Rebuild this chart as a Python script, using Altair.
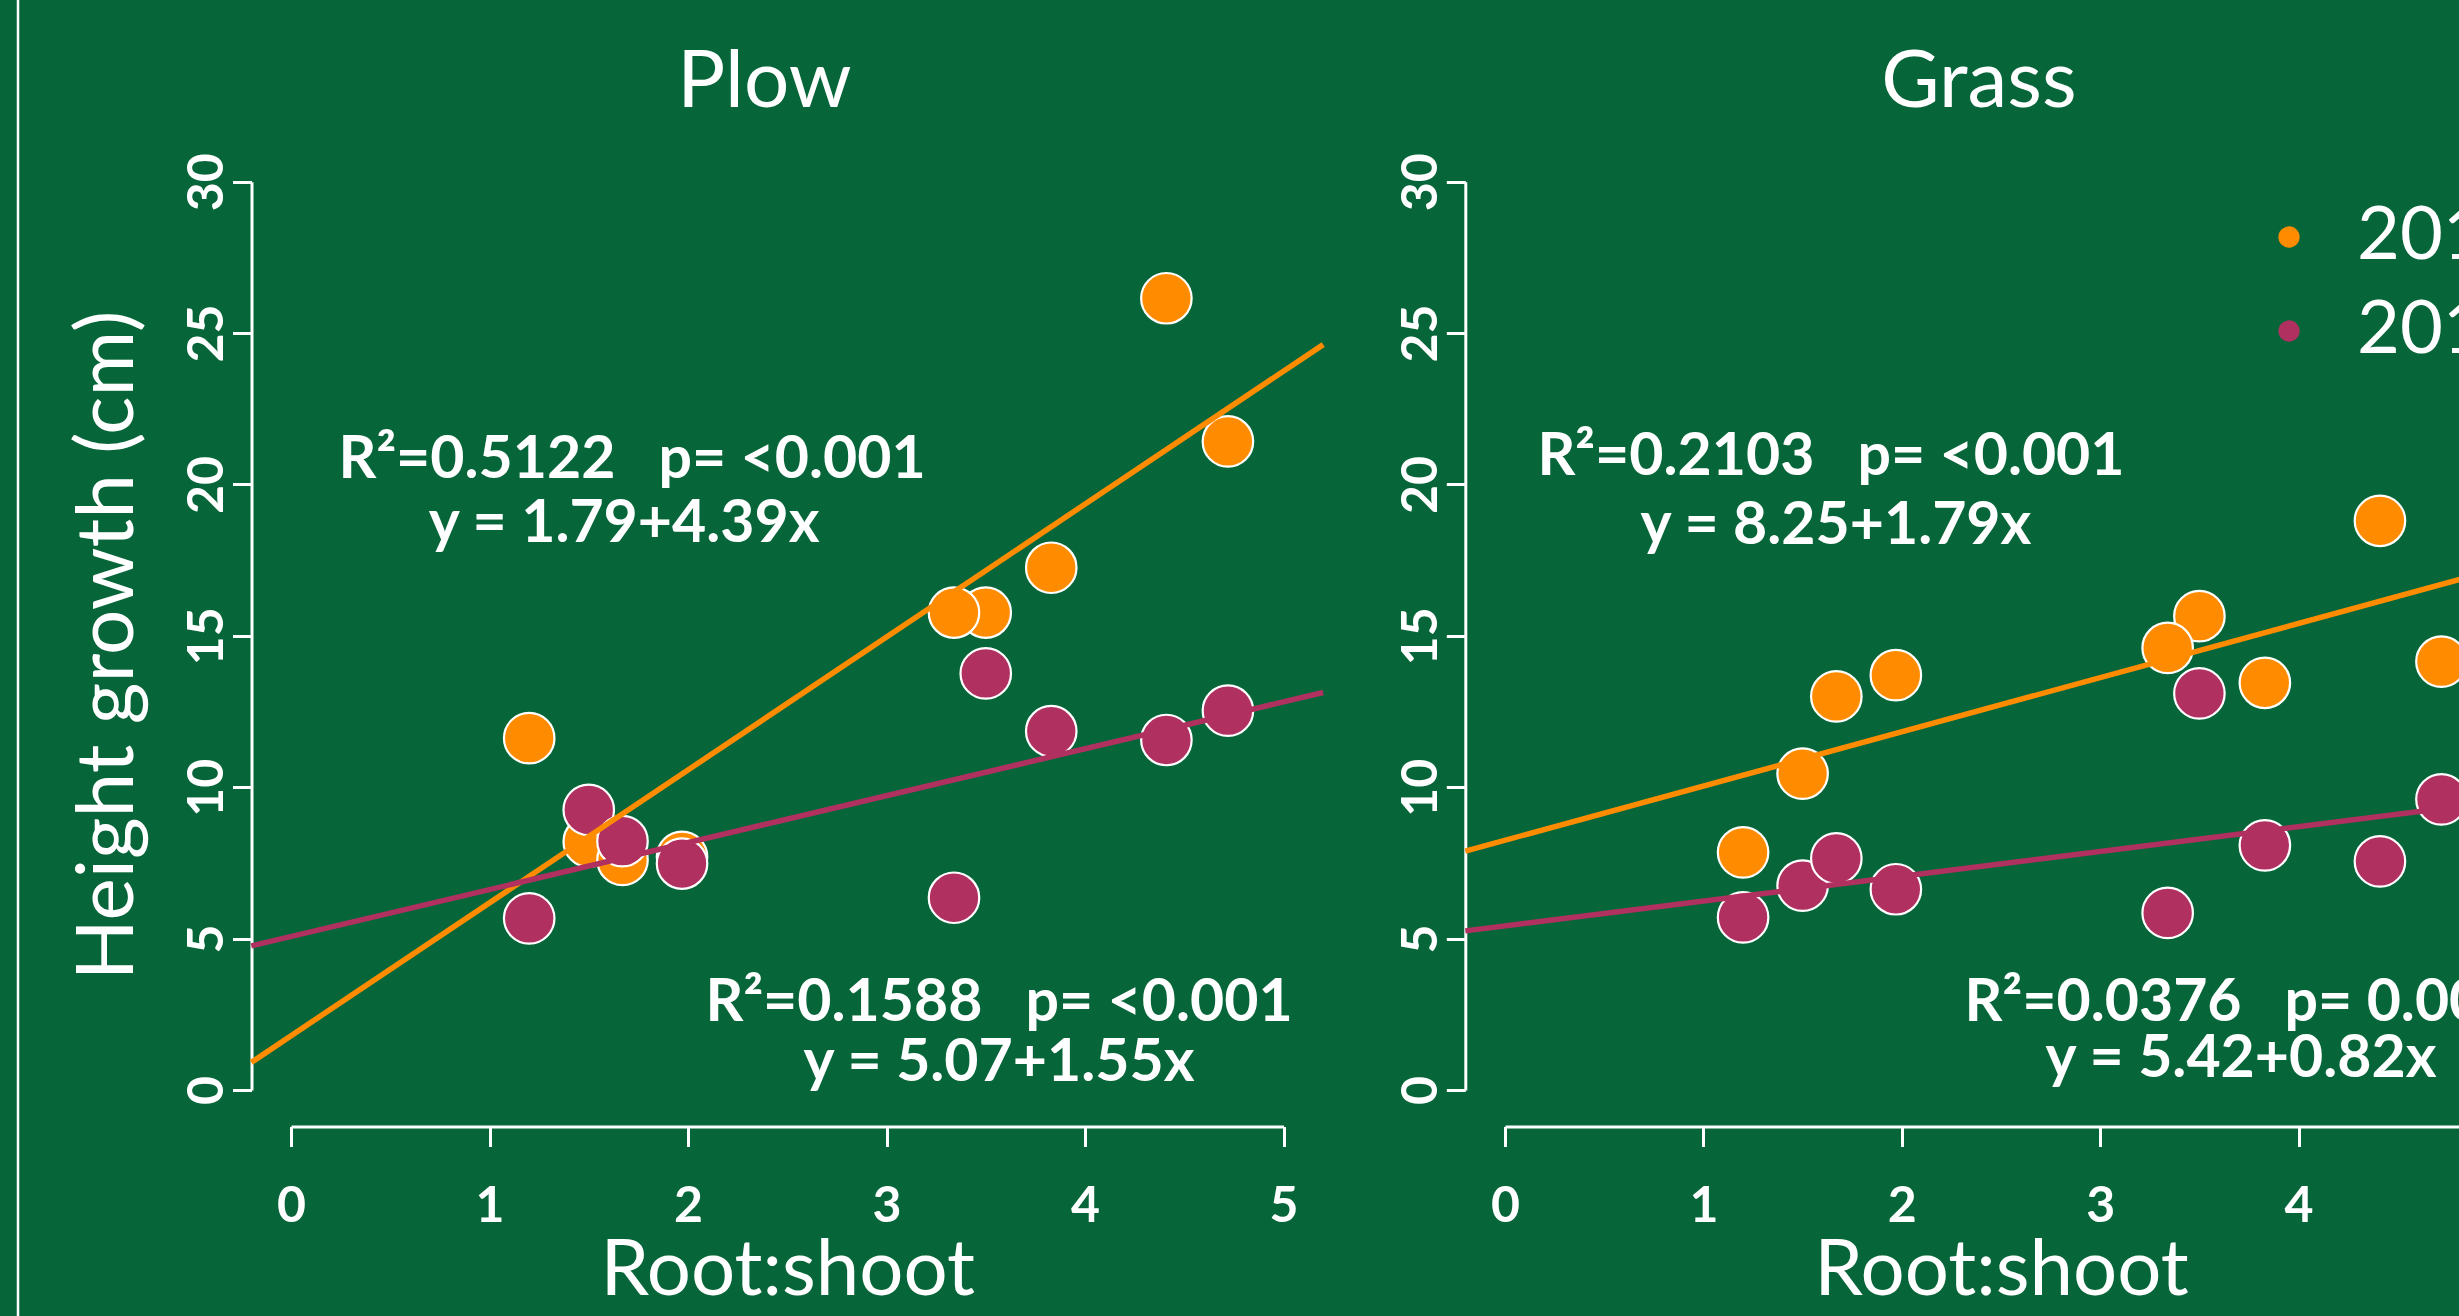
import altair as alt
import pandas as pd

# ---- data -------------------------------------------------------------
# Root:shoot ratio of the nine stock types (same for both site preparations)
root_shoot = [1.20, 1.50, 1.67, 1.97, 3.50, 3.34, 3.83, 4.41, 4.72]

years = ["2016", "2017"]
year_colors = ["#FF8C00", "#B03060"]

# Mean height growth (cm), in the same stock-type order as root_shoot
plow_2016 = [11.62, 8.20, 7.60, 7.70, 15.77, 15.77, 17.25, 26.15, 21.42]
plow_2017 = [5.67, 9.25, 8.22, 7.48, 13.76, 6.35, 11.85, 11.56, 12.53]
grass_2016 = [7.85, 10.45, 13.00, 13.70, 15.65, 14.60, 13.45, 18.80, 14.15]
grass_2017 = [5.70, 6.75, 7.65, 6.63, 13.10, 5.85, 8.08, 7.55, 9.60]

# Linear fits: (intercept, slope), R-squared, p-value text
plow_fit_2016 = (1.79, 4.39)
plow_fit_2017 = (5.07, 1.55)
grass_fit_2016 = (8.25, 1.79)
grass_fit_2017 = (5.42, 0.82)
plow_r2 = ["0.5122", "0.1588"]
plow_p = ["<0.001", "<0.001"]
grass_r2 = ["0.2103", "0.0376"]
grass_p = ["<0.001", "0.006"]

x_ticks = [0, 1, 2, 3, 4, 5]
y_ticks = [0, 5, 10, 15, 20, 25, 30]

# ---- layout / style ---------------------------------------------------
W, H = 2459, 1316
GREEN = "#07653A"
FONT = "Lato"
X_LO, X_HI = -0.2, 5.2          # plot region (4 % beyond 0..5)
X_RANGE = {"Plow": [291, 1283.5], "Grass": [1505, 2497]}
Y_RANGE = [1090, 181.7]
X_AXIS_AT = 1126.5               # pixel row of the x axes
Y_AXIS_AT = {"Plow": 251.5, "Grass": 1465.3}

# annotation anchors (data units) : [stat line, equation line] per year
TEXT_POS = {
    "Plow": [[(1.718, 20.82), (1.678, 18.71)], [(3.567, 2.86), (3.567, 0.88)]],
    "Grass": [[(1.643, 20.92), (1.668, 18.64)], [(3.71, 2.89), (3.71, 1.04)]],
}
TITLE_POS = {"Plow": (2.385, 33.27), "Grass": (2.389, 33.27)}
NBSP3 = "\u00a0\u00a0\u00a0"


def points_frame(a, b):
    rows = []
    for yr, vals in zip(years, (a, b)):
        for x, y in zip(root_shoot, vals):
            rows.append({"x": x, "y": y, "year": yr})
    return pd.DataFrame(rows)


def fit_frame(f1, f2):
    rows = []
    for yr, (a, b) in zip(years, (f1, f2)):
        for x in (X_LO, X_HI):
            rows.append({"x": x, "a": a, "b": b, "year": yr})
    return pd.DataFrame(rows)


def label_frame(name, fits, r2s, ps):
    rows = []
    for (a, b), r2, p, pos in zip(fits, r2s, ps, TEXT_POS[name]):
        rows.append({"x": pos[0][0], "y": pos[0][1],
                     "label": f"R\u00b2={r2}{NBSP3}p= {p}"})
        rows.append({"x": pos[1][0], "y": pos[1][1],
                     "label": f"y = {a:.2f}+{b:.2f}x"})
    return pd.DataFrame(rows)


legend = alt.Legend(
    orient="none", legendX=2252, legendY=200, title=None,
    symbolType="circle", symbolSize=452, symbolStrokeWidth=0,
    symbolOpacity=1, labelFont=FONT, labelFontSize=74,
    labelColor="white", labelOffset=31, labelLimit=400,
    rowPadding=20, padding=0,
)


def panel(name, g1, g2, f1, f2, r2s, ps, y_title):
    common = dict(
        domainColor="white", domainWidth=3, tickColor="white", tickWidth=3,
        grid=False, labelColor="white", labelFont=FONT, labelFontSize=50,
        labelFontWeight="bold", labelFlush=False, labelOverlap=False,
    )
    x_axis = alt.Axis(
        orient="bottom", offset=X_AXIS_AT - H, values=x_ticks, tickSize=20,
        labelBaseline="alphabetic", labelAlign="center", labelPadding=75,
        title="Root:shoot", titleColor="white", titleFont=FONT,
        titleFontSize=78, titleFontWeight="normal",
        titleBaseline="alphabetic", titleY=168, **common,
    )
    y_kw = dict(
        orient="left", offset=-Y_AXIS_AT[name], values=y_ticks, tickSize=19,
        labelAngle=270, labelAlign="center", labelBaseline="alphabetic",
        labelPadding=10, **common,
    )
    if y_title:
        y_axis = alt.Axis(
            title=y_title, titleColor="white", titleFont=FONT,
            titleFontSize=80, titleFontWeight="normal", titleAngle=270,
            titleAlign="center", titleBaseline="alphabetic",
            titleX=132 - Y_AXIS_AT[name], titleY=645, **y_kw,
        )
    else:
        y_axis = alt.Axis(title=None, **y_kw)

    xs = alt.Scale(domain=[0, 5], range=X_RANGE[name], nice=False, zero=False)
    ys = alt.Scale(domain=[0, 30], range=Y_RANGE, nice=False, zero=False)
    x_enc = alt.X("x:Q", scale=xs, axis=x_axis)
    y_enc = alt.Y("y:Q", scale=ys, axis=y_axis)

    pts = alt.Chart(points_frame(g1, g2)).mark_circle(
        size=2550, stroke="white", strokeWidth=2.2, opacity=1
    ).encode(
        x=x_enc, y=y_enc,
        fill=alt.Fill("year:N", scale=alt.Scale(domain=years, range=year_colors),
                      legend=legend),
    )

    lines = alt.Chart(fit_frame(f1, f2)).transform_calculate(
        y="datum.a + datum.b * datum.x"
    ).mark_line(strokeWidth=5.5).encode(
        x=x_enc, y=y_enc,
        stroke=alt.Stroke("year:N", scale=alt.Scale(domain=years, range=year_colors),
                          legend=None),
    )

    notes = alt.Chart(label_frame(name, (f1, f2), r2s, ps)).mark_text(
        font=FONT, fontSize=59, fontWeight="bold", color="white",
        align="center", baseline="middle",
    ).encode(x=x_enc, y=y_enc, text="label:N")

    tx, ty = TITLE_POS[name]
    title = alt.Chart(pd.DataFrame({"x": [tx], "y": [ty], "label": [name]})).mark_text(
        font=FONT, fontSize=80, color="white", align="center", baseline="middle",
    ).encode(x=x_enc, y=y_enc, text="label:N")

    return alt.layer(pts, lines, notes, title)


plow = panel("Plow", plow_2016, plow_2017, plow_fit_2016, plow_fit_2017,
             plow_r2, plow_p, "Height growth (cm)")
grass = panel("Grass", grass_2016, grass_2017, grass_fit_2016, grass_fit_2017,
              grass_r2, grass_p, None)

# thin white frame line at the left edge
frame = alt.Chart(pd.DataFrame({"k": [0]})).mark_rule(
    color="white", strokeWidth=2.5
).encode(x=alt.value(18), y=alt.value(0), y2=alt.value(H))

chart = alt.layer(plow, grass, frame).resolve_scale(
    x="independent", y="independent"
).properties(
    width=W, height=H, padding=0, background=GREEN,
    autosize=alt.AutoSizeParams(type="none"),
).configure_view(stroke=None)

chart.save("out.html", embed_options={"renderer": "svg", "actions": False})
